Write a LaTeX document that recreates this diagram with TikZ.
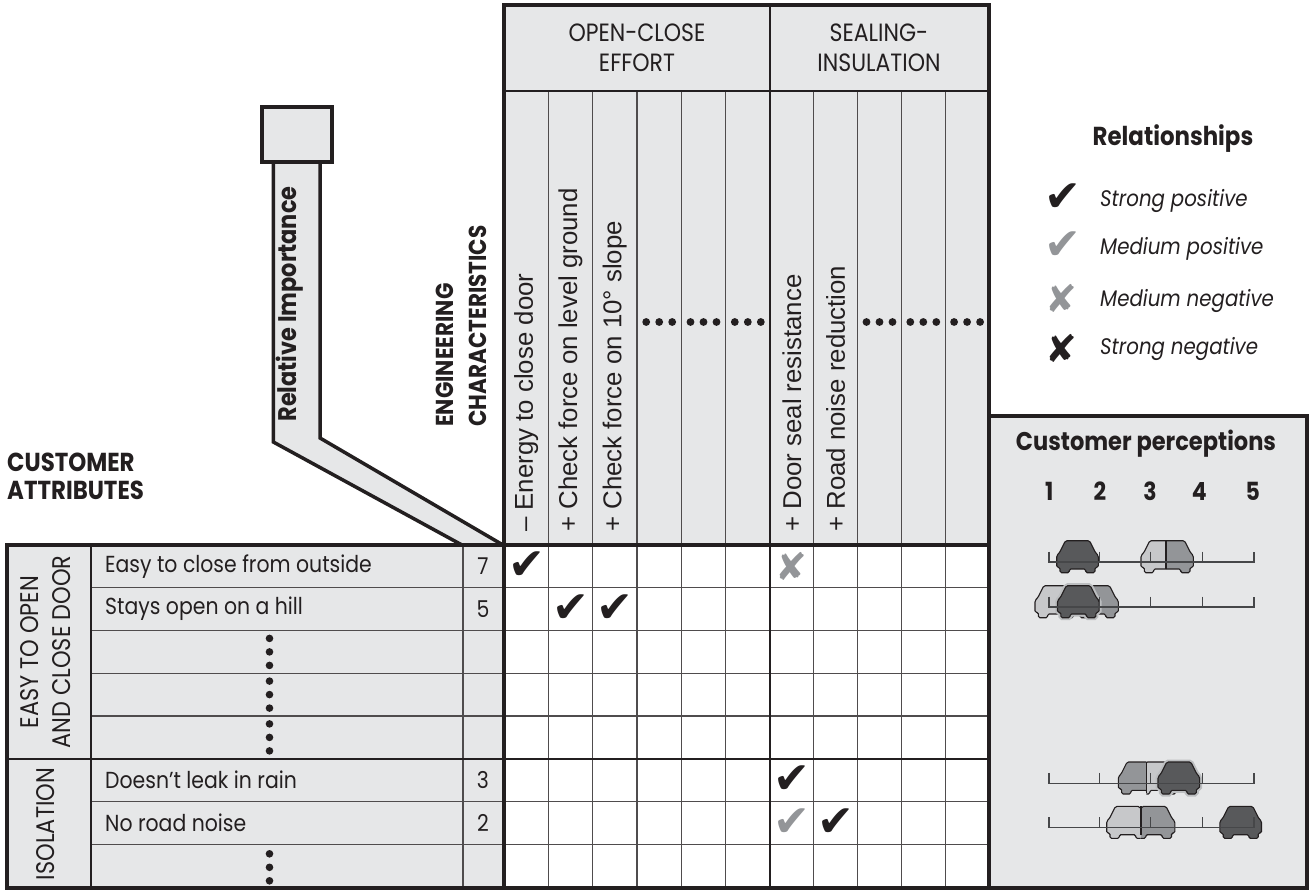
\documentclass[tikz,border=0pt]{standalone}
\usepackage{fontspec}
\setmainfont{Poppins}
\newfontfamily\fut{Poppins}[FakeStretch=0.88]
\newfontfamily\helv{Liberation Sans}
\newfontfamily\dingf{DejaVu Sans}
\newcommand{\fsz}[2]{\fontsize{#1}{#2}\selectfont}
\definecolor{ink}{HTML}{231F20}
\definecolor{panel}{HTML}{E6E7E8}
\definecolor{cdark}{HTML}{58595B}
\definecolor{cmed}{HTML}{939598}
\definecolor{clight}{HTML}{C7C8CA}
\definecolor{halo}{HTML}{BCBEC0}
\begin{document}
\begin{tikzpicture}[x=1pt,y=-1pt,line join=miter]
\tikzset{
  thickln/.style={draw=ink, line width=3.5pt},
  midln/.style={draw=ink, line width=2.6pt},
  thinln/.style={draw=ink!80, line width=1.3pt},
  scaleln/.style={draw=cdark!80!black, line width=1.3pt},
  attr/.style={font=\fut\fsz{23.2}{27}, inner sep=0pt, anchor=west, text=ink},
  imp/.style={font=\fut\fsz{23.2}{27}, inner sep=0pt, text=ink},
  ecol/.style={font=\helv\fsz{25.8}{30}, inner sep=0pt, anchor=west, rotate=90, text=ink},
  hdr/.style={font=\fut\fsz{25}{30}, align=center, inner sep=0pt, text=ink},
  grp/.style={font=\fut\fsz{25.5}{32}, align=center, inner sep=0pt, rotate=90, text=ink},
  bld/.style={font=\fut\bfseries\fsz{26}{29}, inner sep=0pt, text=ink},
  leg/.style={font=\fut\itshape\fsz{22.5}{27}, inner sep=0pt, anchor=west, text=ink},
  chk/.style={font=\dingf\fsz{44}{44}, inner sep=0pt},
  crs/.style={font=\dingf\fsz{38}{38}, inner sep=0pt},
  cardraw/.style={draw=ink, line width=1.1pt, rounded corners=1.5pt},
  carhalo/.style={draw=halo, line width=5pt, rounded corners=1.5pt},
  car/.pic={
    \path[pic actions] (-12,-21.3) -- (12,-21.3) -- (18,-9.3) -- (20.8,-6.5) -- (20.8,5.3) -- (17.5,5.3) -- (17.5,10.7) -- (8.2,10.7) -- (8.2,7) -- (-8.2,7) -- (-8.2,10.7) -- (-17.5,10.7) -- (-17.5,5.3) -- (-20.8,5.3) -- (-20.8,-6.5) -- (-18,-9.3) -- cycle;
  },
}
\useasboundingbox (0,0) rectangle (1309,890);
\fill[white] (0,0) rectangle (1309,890);

% ---------- fills
\fill[panel] (504,5) rectangle (989,545);
\fill[panel] (7,545) rectangle (504,888);
\fill[panel] (989,416) rectangle (1307,888);

% ---------- relative importance funnel
\fill[panel] (273.3,162) -- (273.3,442) -- (462,545) -- (503,545) -- (320,438) -- (320,162) -- cycle;
\draw[thickln] (273.3,160) -- (273.3,442) -- (462,545);
\draw[thickln] (320,160) -- (320,438) -- (503,545);
\filldraw[fill=panel, thickln] (262,107) rectangle (332,162);
\node[bld, rotate=90, font=\fut\bfseries\fsz{25.5}{29}] (relimp) at (290,304) {Relative Importance};

% ---------- grid thin lines
\foreach \k in {1,...,5}{\draw[thinln] ({504+44.33*\k},91) -- ({504+44.33*\k},888);}
\foreach \k in {1,...,4}{\draw[thinln] ({770+43.8*\k},91) -- ({770+43.8*\k},888);}
\foreach \k in {1,2,3,4,6,7}{\draw[thinln] (91,{545+42.75*\k}) -- (989,{545+42.75*\k});}
\draw[thinln] (463,545) -- (463,888);

% ---------- thick lines
\draw[midln] (504,91) -- (989,91);
\draw[midln] (770,5) -- (770,888);
\draw[midln] (7,759) -- (989,759);
\draw[midln] (91,545) -- (91,888);
\draw[midln] (504,545) -- (504,888);
\draw[thickln] (504,888) -- (504,5) -- (989,5) -- (989,888);
\draw[thickln] (7,545) rectangle (989,888);
\draw[thickln] (989,416) rectangle (1307,888);

% ---------- header texts
\node[hdr] (grpA) at (637,48) {OPEN-CLOSE\\EFFORT};
\node[hdr] (grpB) at (879,48) {SEALING-\\INSULATION};

\node[ecol] (e1) at (526.2,532) {– Energy to close door};
\node[ecol] (e2) at (570.5,532) {+ Check force on level ground};
\node[ecol] (e3) at (614.8,532) {+ Check force on 10° slope};
\node[ecol] (e7) at (791.9,532) {+ Door seal resistance};
\node[ecol] (e8) at (835.7,532) {+ Road noise reduction};

\foreach \cx in {659.2,703.5,747.8,879.5,923.3,967.1}{
  \foreach \d in {-13,0,13}{\fill[ink] ({\cx+\d},322) circle[radius=3.9pt];}
}

\node[bld, rotate=90, anchor=north west, align=left, font=\fut\bfseries\fsz{24.5}{33}] (eng) at (436,427) {ENGINEERING\\CHARACTERISTICS};

\node[bld, anchor=north west, align=left, font=\fut\bfseries\fsz{26}{27.5}] (cust) at (7,453) {CUSTOMER\\ATTRIBUTES};

% ---------- left table
\node[grp] (g1) at (46,652) {EASY TO OPEN\\AND CLOSE DOOR};
\node[grp] (g2) at (46,824) {ISOLATION};

\node[attr] (a1) at (105,566.4) {Easy to close from outside};
\node[attr] (a2) at (105,609.1) {Stays open on a hill};
\node[attr] (a6) at (105,780.1) {Doesn’t leak in rain};
\node[attr] (a7) at (105,822.9) {No road noise};
\node[imp] (i1) at (483,566.4) {7};
\node[imp] (i2) at (483,609.1) {5};
\node[imp] (i6) at (483,780.1) {3};
\node[imp] (i7) at (483,822.9) {2};

\foreach \cy in {651.9,694.6,737.4,867.3}{
  \foreach \d in {-13.5,0,13.5}{\fill[ink] (269.5,{\cy+\d}) circle[radius=3.8pt];}
}

% ---------- relationship marks
\node[chk, text=ink] (m11) at (527,566) {✔};
\node[chk, text=ink] (m22) at (571,609) {✔};
\node[chk, text=ink] (m23) at (615,609) {✔};
\node[crs, text=cmed] (m17) at (791.5,566) {✘};
\node[chk, text=ink] (m67) at (792,780) {✔};
\node[chk, text=cmed] (m77) at (792,823) {✔};
\node[chk, text=ink] (m78) at (836,823) {✔};

% ---------- legend
\node[bld] (reltitle) at (1173,139) {Relationships};
\node[chk, text=ink] (l1) at (1063,198) {✔};
\node[chk, text=cmed] (l2) at (1063,246) {✔};
\node[crs, text=cmed] (l3) at (1061,298) {✘};
\node[crs, text=ink] (l4) at (1061,348) {✘};
\node[leg] (t1) at (1100,201) {Strong positive};
\node[leg] (t2) at (1100,249) {Medium positive};
\node[leg] (t3) at (1100,301) {Medium negative};
\node[leg] (t4) at (1100,349) {Strong negative};

% ---------- customer perceptions
\node[bld, font=\fut\bfseries\fsz{25.6}{28}] (cptitle) at (1146,444) {Customer perceptions};
\node[bld, font=\fut\bfseries\fsz{25}{28}] (n1) at (1049.3,491) {1};
\node[bld, font=\fut\bfseries\fsz{25}{28}] (n2) at (1100,491) {2};
\node[bld, font=\fut\bfseries\fsz{25}{28}] (n3) at (1150,491) {3};
\node[bld, font=\fut\bfseries\fsz{25}{28}] (n4) at (1199.3,491) {4};
\node[bld, font=\fut\bfseries\fsz{25}{28}] (n5) at (1252.7,491) {5};

% row 1
\pic[cardraw, fill=cdark] at (1077.5,562) {car};
\begin{scope}\clip (1120,530) rectangle (1166,580);
  \pic[cardraw, fill=clight] at (1161.8,562) {car};\end{scope}
\begin{scope}\clip (1166,530) rectangle (1220,580);
  \pic[cardraw, fill=cmed] at (1172.5,562) {car};\end{scope}
\draw[ink, line width=1.6pt] (1166,540.7) -- (1166,569);
% row 2
\pic[cardraw, fill=clight] at (1055.8,607) {car};
\pic[cardraw, fill=cmed] at (1097.5,607) {car};
\pic[carhalo] at (1078.3,607) {car};
\pic[cardraw, fill=cdark] at (1078.3,607) {car};
% row 3
\begin{scope}\clip (1100,750) rectangle (1146.3,800);
  \pic[cardraw, fill=cmed] at (1139.1,783.3) {car};\end{scope}
\begin{scope}\clip (1146.3,750) rectangle (1200,800);
  \pic[cardraw, fill=clight] at (1158,783.3) {car};\end{scope}
\draw[ink, line width=1.6pt] (1146.3,762) -- (1146.3,793);
\pic[carhalo] at (1178.8,783.3) {car};
\pic[cardraw, fill=cdark] at (1178.8,783.3) {car};
% row 4
\begin{scope}\clip (1090,795) rectangle (1140.7,845);
  \pic[cardraw, fill=clight] at (1127.5,827.7) {car};\end{scope}
\begin{scope}\clip (1140.7,795) rectangle (1200,845);
  \pic[cardraw, fill=cmed] at (1154,827.7) {car};\end{scope}
\draw[ink, line width=1.6pt] (1140.7,806.4) -- (1140.7,835);
\pic[cardraw, fill=cdark] at (1240.7,827.7) {car};

% scales
\foreach \b in {562,607,783.3,827.7}{
  \draw[scaleln] (1049,{\b-10.5}) -- (1049,\b) -- (1254,\b) -- (1254,{\b-10.5});
  \foreach \t in {1099.5,1150.5,1202.5}{\draw[scaleln] (\t,{\b-10.5}) -- (\t,\b);}
}
\end{tikzpicture}
\end{document}
